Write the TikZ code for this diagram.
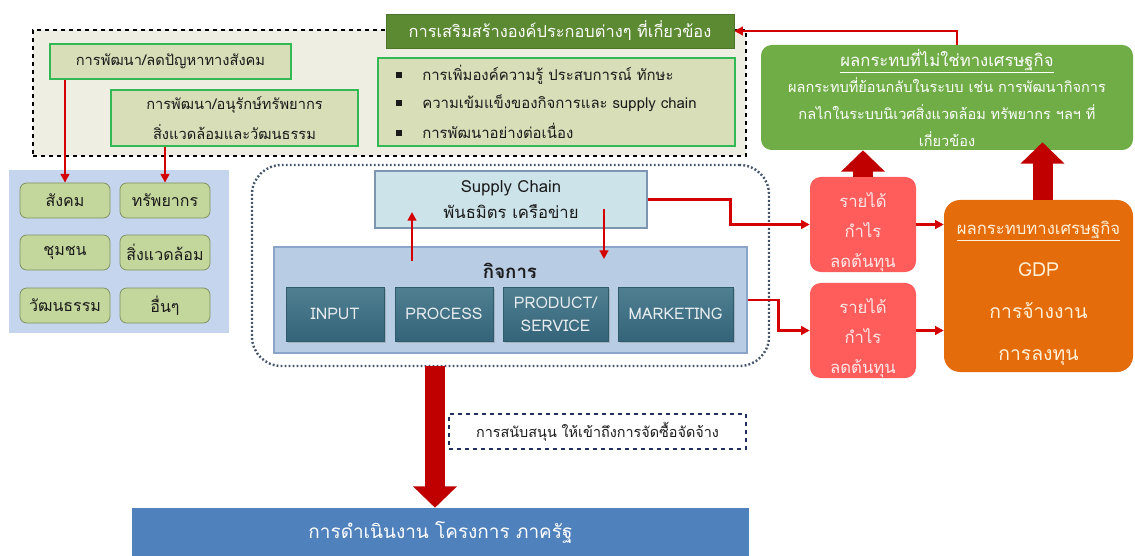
\documentclass[tikz,border=0pt]{standalone}
\usepackage{fontspec}
\setmainfont{Loma}[Script=Thai]
\usetikzlibrary{arrows.meta,shadows}
\definecolor{topfill}{HTML}{EEEFE2}
\definecolor{gfill}{HTML}{D8DEB8}
\definecolor{gborder}{HTML}{33B856}
\definecolor{titlefill}{HTML}{5B8A32}
\definecolor{panelc}{HTML}{C6D5EE}
\definecolor{smallfill}{HTML}{C3D69B}
\definecolor{smallborder}{HTML}{7F9160}
\definecolor{supfill}{HTML}{CDE3EA}
\definecolor{supborder}{HTML}{7E95B2}
\definecolor{firmfill}{HTML}{B8CCE4}
\definecolor{firmborder}{HTML}{8AA5C9}
\definecolor{tealtop}{HTML}{4F7F90}
\definecolor{tealc}{HTML}{35647A}
\definecolor{tealb}{HTML}{2E5A6A}
\definecolor{revc}{HTML}{FF5C5C}
\definecolor{revtxt}{HTML}{FFE6E6}
\definecolor{orangec}{HTML}{E46C0A}
\definecolor{orangetxt}{HTML}{FFF0D8}
\definecolor{green2}{HTML}{70AD47}
\definecolor{darkred}{HTML}{C00000}
\definecolor{thinred}{HTML}{D40000}
\definecolor{govc}{HTML}{4F81BD}
\definecolor{dotc}{HTML}{44546A}
\definecolor{navyc}{HTML}{1F2F5F}
\definecolor{txt}{HTML}{1A1A1A}
\tikzset{
  bx/.style n args={4}{at={({(#1+#3)/2},{(#2+#4)/2})}, minimum width={(#3-#1)*0.75pt}, minimum height={(#4-#2)*0.75pt}},
  dashbox/.style={draw=black, dashed, line width=1pt, fill=topfill, inner sep=0pt},
  titlebox/.style={fill=titlefill, draw=titlefill!85!black, inner sep=0pt, text=white, font=\fontsize{12.3}{15}\selectfont},
  gbox/.style={draw=gborder, line width=1.2pt, fill=gfill, inner sep=0pt, text=txt, align=center, font=\fontsize{11}{22.5}\selectfont},
  bullettext/.style={anchor=west, inner sep=0pt, text=txt, font=\fontsize{11.2}{13}\selectfont},
  panel/.style={fill=panelc, inner sep=0pt},
  smallbox/.style={rounded corners=5pt, draw=smallborder, line width=0.6pt, fill=smallfill, inner sep=0pt, text=txt, font=\fontsize{12}{14}\selectfont},
  dotbox/.style={draw=dotc, line width=1.8pt, dash pattern=on 1.4pt off 1.6pt, rounded corners=22pt, inner sep=0pt},
  supbox/.style={draw=supborder, line width=0.8pt, fill=supfill, inner sep=0pt, text=txt, align=center, font=\fontsize{12.5}{20}\selectfont},
  firmbox/.style={draw=firmborder, line width=0.8pt, fill=firmfill, inner sep=0pt},
  firmlabel/.style={inner sep=0pt, text=txt, font=\fontsize{14}{17}\selectfont\bfseries},
  tealbox/.style={top color=tealtop, bottom color=tealc, draw=tealb, line width=0.6pt, inner sep=0pt, text=white!88!tealc, align=center, font=\fontsize{12}{17}\selectfont, drop shadow={opacity=0.35, shadow xshift=1.2pt, shadow yshift=-1.2pt}},
  revbox/.style={rounded corners=8pt, fill=revc, inner sep=0pt, text=revtxt, align=center, font=\fontsize{12.5}{22.5}\selectfont},
  orangebox/.style={rounded corners=12pt, fill=orangec, inner sep=0pt, text=orangetxt, align=center, font=\fontsize{14.5}{31.5}\selectfont},
  greenbox/.style={rounded corners=8pt, fill=green2, inner sep=0pt, text=white, align=center, font=\fontsize{10.9}{20}\selectfont},
  notebox/.style={draw=navyc, dashed, line width=1pt, inner sep=0pt, text=txt, font=\fontsize{10.8}{13}\selectfont},
  govbox/.style={fill=govc, inner sep=0pt, text=white, font=\fontsize{14.2}{17}\selectfont},
  redarr/.style={draw=thinred, line width=1.6pt, -{Triangle[length=6.5pt,width=6.5pt]}},
  bigarr/.style={draw=darkred, line width=15pt, -{Triangle[length=16pt,width=32pt]}}
}
\begin{document}
\begin{tikzpicture}[x=0.75pt,y=-0.75pt]
\useasboundingbox (0,0) rectangle (1135,556);
% top dashed area
\node[dashbox, bx={33}{30}{746}{156}] (topbox) {};
\node[titlebox, bx={386}{14}{734}{48}] (title) {การเสริมสร้างองค์ประกอบต่างๆ ที่เกี่ยวข้อง};
\node[gbox, bx={50}{44}{291}{79}] (g1) {การพัฒนา/ลดปัญหาทางสังคม};
\node[gbox, bx={111}{90}{358}{146}] (g2) {การพัฒนา/อนุรักษ์ทรัพยากร\\สิ่งแวดล้อมและวัฒนธรรม};
\node[gbox, bx={378}{58}{735}{146}] (bul) {};
\node[bullettext] (b1) at (396,75) {\rule[0.15em]{4.5pt}{4.5pt}\hspace{15pt}การเพิ่มองค์ความรู้ ประสบการณ์ ทักษะ};
\node[bullettext] (b2) at (396,103) {\rule[0.15em]{4.5pt}{4.5pt}\hspace{15pt}ความเข้มแข็งของกิจการและ supply chain};
\node[bullettext] (b3) at (396,131) {\rule[0.15em]{4.5pt}{4.5pt}\hspace{15pt}การพัฒนาอย่างต่อเนื่อง};
% left panel
\node[panel, bx={9}{170}{229}{333}] (panel) {};
\node[smallbox, bx={20}{183}{110}{218}] (s1) {สังคม};
\node[smallbox, bx={120}{183}{210}{218}] (s2) {ทรัพยากร};
\node[smallbox, bx={20}{235}{110}{270}] (s3) {ชุมชน};
\node[smallbox, bx={120}{235}{210}{270}] (s4) {สิ่งแวดล้อม};
\node[smallbox, bx={20}{288}{110}{323}] (s5) {วัฒนธรรม};
\node[smallbox, bx={120}{288}{210}{323}] (s6) {อื่นๆ};
\draw[redarr] (s1 |- g1.south) -- (s1.north);
\draw[redarr] (s2 |- g2.south) -- (s2.north);
% central firm area
\node[dotbox, bx={252}{165}{769}{366}] (dot) {};
\node[supbox, bx={375}{171}{647}{228}] (sup) {Supply Chain\\พันธมิตร เครือข่าย};
\node[firmbox, bx={274}{247}{747}{353}] (firm) {};
\node[firmlabel] (firmlab) at (510,271) {กิจการ};
\node[tealbox, bx={286}{287}{384}{341}] (t1) {INPUT};
\node[tealbox, bx={395}{287}{493}{341}] (t2) {PROCESS};
\node[tealbox, bx={503}{287}{608}{341}] (t3) {PRODUCT/\\SERVICE};
\node[tealbox, bx={618}{287}{733}{341}] (t4) {MARKETING};
\coordinate (ua) at (412,261);
\coordinate (ub) at (412,212);
\coordinate (da) at (604,209);
\coordinate (db) at (604,259);
\draw[redarr] (ua) -- (ub);
\draw[redarr] (da) -- (db);
% revenue boxes
\node[revbox, bx={810}{182}{916}{267}] (r1) {\rule{0pt}{23pt}รายได้\\กำไร\\ลดต้นทุน};
\node[revbox, bx={810}{288}{916}{373}] (r2) {\rule{0pt}{23pt}รายได้\\กำไร\\ลดต้นทุน};
\draw[redarr] (sup.east) -- ++(83,0) |- (r1.west);
\draw[redarr] (firm.east) -- ++(31,0) |- (r2.west);
% economic impact
\node[orangebox, bx={944}{200}{1133}{372}] (eco) {\rule{0pt}{21pt}{\fontsize{12.5}{14}\selectfont\underline{ผลกระทบทางเศรษฐกิจ}}\\GDP\\การจ้างงาน\\การลงทุน};
\draw[redarr] (r1.east) -- (r1.east -| eco.west);
\draw[redarr] (r2.east) -- (r2.east -| eco.west);
% non-economic impact
\node[greenbox, bx={761}{45}{1133}{150}] (neco) {{\fontsize{12.5}{14}\selectfont\underline{ผลกระทบที่ไม่ใช่ทางเศรษฐกิจ}}\\ผลกระทบที่ย้อนกลับในระบบ เช่น การพัฒนากิจการ\\กลไกในระบบนิเวศสิ่งแวดล้อม ทรัพยากร ฯลฯ ที่\\เกี่ยวข้อง};
\draw[bigarr] (r1.north) -- (r1.north |- neco.south);
\draw[bigarr] ([xshift=3pt]eco.north) -- ([xshift=3pt,yshift=6pt]eco.north |- neco.south);
\draw[redarr] ([xshift=7.5pt]neco.north) |- (title.east);
% government
\node[govbox, bx={132}{508}{749}{556}] (gov) {การดำเนินงาน โครงการ ภาครัฐ};
\node[notebox, bx={449}{414}{746}{449}] (note) {การสนับสนุน ให้เข้าถึงการจัดซื้อจัดจ้าง};
\coordinate (dA) at (435,366);
\draw[bigarr] (dA) -- (dA |- gov.north);
\end{tikzpicture}
\end{document}
